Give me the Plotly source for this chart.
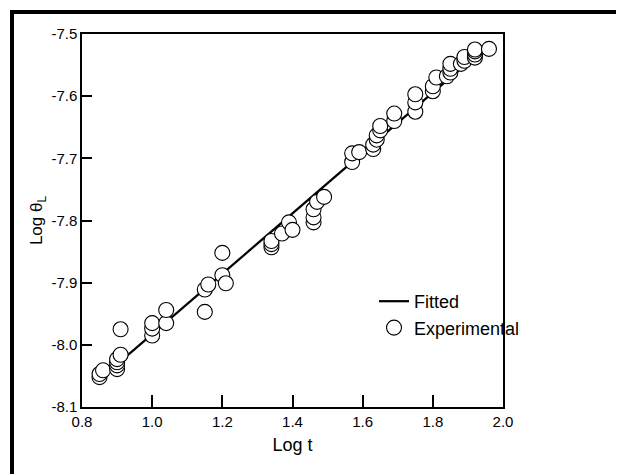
import plotly.graph_objects as go

# Experimental points (Log t, Log theta_L)
log_t = [0.85, 0.85, 0.86,
         0.90, 0.90, 0.90, 0.90, 0.91,
         0.91,
         1.00, 1.00, 1.00,
         1.04, 1.04,
         1.15,
         1.15, 1.16,
         1.20, 1.20, 1.21,
         1.34, 1.34, 1.34,
         1.37,
         1.39, 1.40,
         1.46, 1.46, 1.46,
         1.47,
         1.49,
         1.57, 1.57, 1.59,
         1.63, 1.63, 1.64, 1.64, 1.65, 1.65,
         1.69, 1.69,
         1.75, 1.75, 1.75,
         1.80, 1.80, 1.81,
         1.84, 1.85, 1.85, 1.85,
         1.88, 1.89, 1.89,
         1.92, 1.92, 1.92, 1.92,
         1.96]
log_theta = [-8.052, -8.047, -8.041,
             -8.039, -8.033, -8.028, -8.023, -8.016,
             -7.975,
             -7.985, -7.974, -7.965,
             -7.965, -7.944,
             -7.947,
             -7.911, -7.903,
             -7.852, -7.888, -7.901,
             -7.843, -7.838, -7.833,
             -7.821,
             -7.803, -7.815,
             -7.803, -7.795, -7.782,
             -7.770,
             -7.762,
             -7.706, -7.692, -7.690,
             -7.685, -7.678, -7.670, -7.663, -7.655, -7.648,
             -7.640, -7.628,
             -7.625, -7.610, -7.597,
             -7.592, -7.584, -7.570,
             -7.568, -7.562, -7.556, -7.548,
             -7.548, -7.543, -7.537,
             -7.538, -7.533, -7.528, -7.525,
             -7.524]

# Fitted line end points
fit_t = [0.87, 1.92]
fit_theta = [-8.046, -7.536]

x_ticks = [0.8, 1.0, 1.2, 1.4, 1.6, 1.8, 2.0]
y_ticks = [-8.1, -8.0, -7.9, -7.8, -7.7, -7.6, -7.5]

fig = go.Figure()
fig.add_trace(go.Scatter(x=fit_t, y=fit_theta, mode="lines", name="Fitted",
                         line=dict(color="black", width=2.2)))
fig.add_trace(go.Scatter(x=log_t, y=log_theta, mode="markers", name="Experimental",
                         marker=dict(symbol="circle", size=15, color="white",
                                     line=dict(color="black", width=1.1))))

# page has an 8px body margin, so figure coords = page coords - 8
L, T, PW, PH = 74, 26, 421, 373
axis_font = dict(family="Liberation Sans, Arial, sans-serif", size=15, color="black")
fig.update_layout(
    width=624, height=474,
    margin=dict(l=L, r=624 - L - PW, t=T, b=474 - T - PH, autoexpand=False),
    paper_bgcolor="white", plot_bgcolor="white",
    font=dict(family="Liberation Sans, Arial, sans-serif", color="black"),
    showlegend=True,
    legend=dict(xref="container", yref="container",
                x=366 / 624, y=1 - 275 / 474, xanchor="left", yanchor="top",
                bgcolor="rgba(0,0,0,0)", font=dict(size=18),
                itemwidth=30, tracegroupgap=4),
    xaxis=dict(range=[0.8, 2.0], tickvals=x_ticks,
               ticktext=[f"{v:.1f}" for v in x_ticks],
               ticks="inside", ticklen=12, tickwidth=2, tickcolor="black",
               showline=True, linecolor="black", linewidth=1.5, mirror=True,
               showgrid=False, zeroline=False, tickfont=axis_font,
               title=dict(text="Log t", font=dict(size=18), standoff=10)),
    yaxis=dict(range=[-8.1, -7.5], tickvals=y_ticks,
               ticktext=[f"{v:.1f}" for v in y_ticks],
               ticks="inside", ticklen=10, tickwidth=2, tickcolor="black",
               showline=True, linecolor="black", linewidth=1.5, mirror=True,
               showgrid=False, zeroline=False, tickfont=axis_font,
               title=dict(text="Log θ<sub>L</sub>", font=dict(size=17), standoff=4)),
    shapes=[dict(type="rect", xref="paper", yref="paper",
                 x0=(4 - L) / PW, x1=(640 - L) / PW,
                 y0=(T + PH - 490) / PH, y1=(T + PH - 4) / PH,
                 line=dict(color="black", width=4), fillcolor="rgba(0,0,0,0)",
                 layer="above")],
)

fig.write_html("out.html")
